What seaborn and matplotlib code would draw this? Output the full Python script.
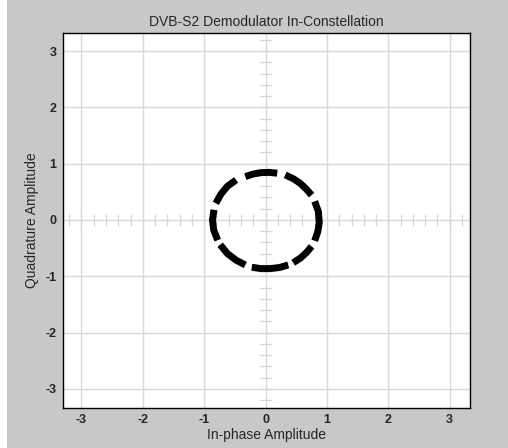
import numpy as np
import pandas as pd
import matplotlib
matplotlib.use("Agg")
import matplotlib.pyplot as plt
from matplotlib.patches import Rectangle
import seaborn as sns

# Received symbol clusters, traced as arc segments (I, Q) on the ring
arc_ids = [1] * 5 + [2] * 5 + [3] * 5 + [4] * 4 + [5] * 5 + [6] * 4 + [7] * 4 + [8] * 4
i_vals = [-0.33, -0.205, -0.075, 0.06, 0.19,
          0.32, 0.455, 0.565, 0.67, 0.75,
          0.80, 0.86, 0.875, 0.85, 0.80,
          0.75, 0.665, 0.57, 0.45,
          0.37, 0.225, 0.075, -0.075, -0.225,
          -0.33, -0.48, -0.62, -0.74,
          -0.78, -0.845, -0.865, -0.84,
          -0.81, -0.73, -0.62, -0.48]
q_vals = [0.77, 0.815, 0.84, 0.845, 0.83,
          0.80, 0.73, 0.65, 0.54, 0.44,
          0.33, 0.15, -0.045, -0.21, -0.37,
          -0.47, -0.58, -0.675, -0.76,
          -0.80, -0.845, -0.865, -0.865, -0.84,
          -0.80, -0.715, -0.60, -0.44,
          -0.36, -0.18, 0.0, 0.18,
          0.295, 0.455, 0.60, 0.71]

tick_vals = [-3, -2, -1, 0, 1, 2, 3]
minor_vals = np.round(np.arange(-3.2, 3.21, 0.2), 2)

df = pd.DataFrame({"arc": arc_ids, "I": i_vals, "Q": q_vals})

sns.set_theme(style="white")
plt.rcParams["font.family"] = ["Liberation Sans", "DejaVu Sans"]

fig = plt.figure(figsize=(5.08, 4.48), dpi=100, facecolor="#c8c8c8")
# thin white margin on the left edge of the panel
fig.patches.append(Rectangle((0, 0), 7 / 508, 1, transform=fig.transFigure,
                             facecolor="white", edgecolor="none", zorder=-10))
ax = fig.add_axes([63 / 508, 1 - 408 / 448, 407 / 508, 375 / 448])
ax.set_facecolor("white")

grid_c = "#d8d8d8"
for v in tick_vals:
    ax.axvline(v, color=grid_c, lw=1, zorder=1)
    ax.axhline(v, color=grid_c, lw=1, zorder=1)
# minor division marks along the centre cross
ax.plot(np.zeros_like(minor_vals), minor_vals, ls="none", marker="_",
        markersize=9, mew=1, color=grid_c, zorder=1)
ax.plot(minor_vals, np.zeros_like(minor_vals), ls="none", marker="|",
        markersize=9, mew=1, color=grid_c, zorder=1)

sns.lineplot(data=df, x="I", y="Q", units="arc", estimator=None, sort=False,
             color="black", lw=5.0, solid_capstyle="butt",
             solid_joinstyle="round", ax=ax, zorder=3)

ax.set_xlim(-3.3, 3.33)
ax.set_ylim(-3.34, 3.32)
ax.set_xticks(tick_vals)
ax.set_yticks(tick_vals)
ax.set_xticklabels([str(v) for v in tick_vals], fontweight="bold", fontsize=9)
ax.set_yticklabels([str(v) for v in tick_vals], fontweight="bold", fontsize=9)
ax.tick_params(length=0, pad=4.5)
for s in ax.spines.values():
    s.set_color("black")
    s.set_linewidth(1)
    s.set_visible(True)

ax.set_title("DVB-S2 Demodulator In-Constellation", fontsize=10, pad=5)
ax.set_xlabel("In-phase Amplitude", fontsize=10, labelpad=1)
ax.set_ylabel("Quadrature Amplitude", fontsize=10, labelpad=5)

fig.savefig("out.png", dpi=100, facecolor=fig.get_facecolor())
